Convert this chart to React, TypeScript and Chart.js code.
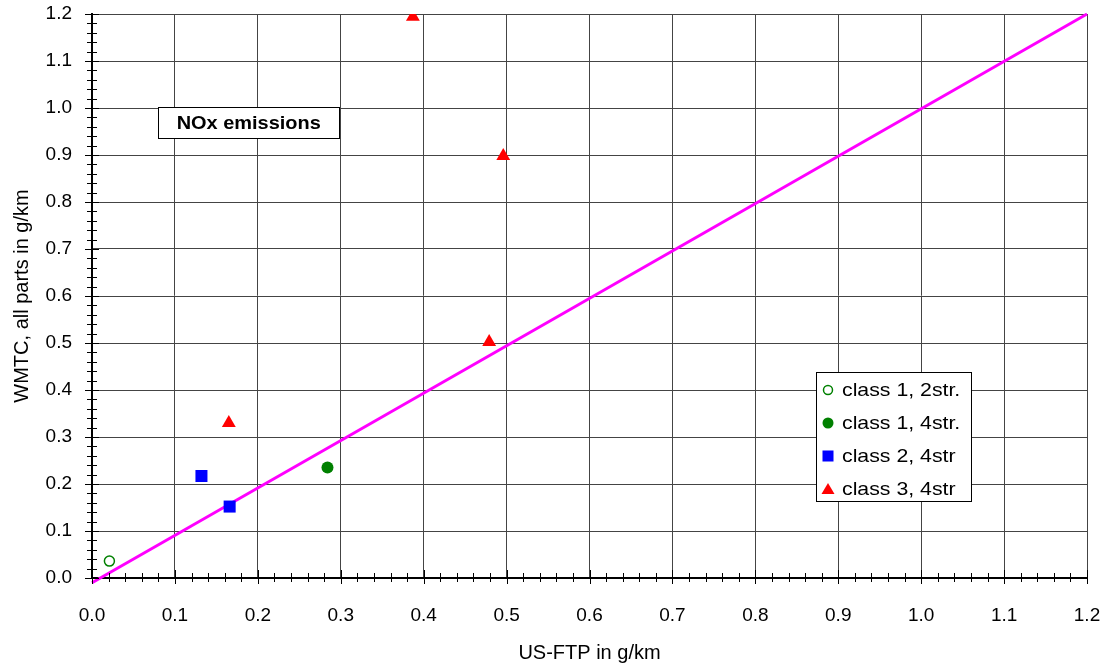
import React, { useEffect, useRef } from "react";
import { Chart, registerables } from "chart.js";

Chart.register(...registerables);

// ---- data ----
const seriesLabels = ["class 1, 2str.", "class 1, 4str.", "class 2, 4str", "class 3, 4str"];
const class1TwoStrokeX = [0.021];
const class1TwoStrokeY = [0.036];
const class1FourStrokeX = [0.284];
const class1FourStrokeY = [0.235];
const class2X = [0.132, 0.166];
const class2Y = [0.217, 0.152];
const class3X = [0.165, 0.387, 0.496, 0.479];
const class3Y = [0.33, 1.194, 0.898, 0.502];
const parityX = [0, 1.2];
const parityY = [-0.01, 1.2];
const axisMin = 0;
const axisMax = 1.2;
const majorStep = 0.1;
const minorStep = 0.02;
const boxTitle = "NOx emissions";
const xTitle = "US-FTP in g/km";
const yTitle = "WMTC, all parts in g/km";

const FONT = "Arial, 'Liberation Sans', sans-serif";
const GREEN = "#008000";
const BLUE = "#0000FF";
const RED = "#FF0000";
const MAGENTA = "#FF00FF";

const zip = (xs: number[], ys: number[]) => xs.map((x, i) => ({ x, y: ys[i] }));

function drawMarker(ctx: CanvasRenderingContext2D, kind: string, x: number, y: number, color: string) {
  ctx.save();
  ctx.beginPath();
  if (kind === "open") {
    ctx.arc(x, y, 4.5, 0, Math.PI * 2);
    ctx.fillStyle = "#fff";
    ctx.fill();
    ctx.strokeStyle = color;
    ctx.lineWidth = 1.5;
    ctx.stroke();
  } else if (kind === "circle") {
    ctx.arc(x, y, 5.5, 0, Math.PI * 2);
    ctx.fillStyle = color;
    ctx.fill();
  } else if (kind === "square") {
    ctx.fillStyle = color;
    ctx.fillRect(x - 5.5, y - 5.5, 11, 11);
  } else {
    ctx.moveTo(x, y - 6);
    ctx.lineTo(x + 6.5, y + 5);
    ctx.lineTo(x - 6.5, y + 5);
    ctx.closePath();
    ctx.fillStyle = color;
    ctx.fill();
  }
  ctx.restore();
}

const decorPlugin = {
  id: "decor",
  afterDraw(chart: any) {
    const ctx: CanvasRenderingContext2D = chart.ctx;
    const xs = chart.scales.x;
    const ys = chart.scales.y;
    const area = chart.chartArea;
    ctx.save();
    // tick marks crossing the axes
    ctx.strokeStyle = "#000";
    ctx.lineWidth = 1;
    const n = Math.round((axisMax - axisMin) / minorStep);
    for (let i = 0; i <= n; i++) {
      const v = axisMin + i * minorStep;
      const major = i % Math.round(majorStep / minorStep) === 0;
      const px = Math.round(xs.getPixelForValue(v)) + 0.5;
      ctx.beginPath();
      ctx.moveTo(px, area.bottom - (major ? 8 : 5));
      ctx.lineTo(px, area.bottom + (major ? 6 : 4));
      ctx.stroke();
      const py = Math.round(ys.getPixelForValue(v)) + 0.5;
      ctx.beginPath();
      ctx.moveTo(area.left - (major ? 7 : 5), py);
      ctx.lineTo(area.left + (major ? 7 : 5), py);
      ctx.stroke();
    }

    // title box
    const bx0 = xs.getPixelForValue(0.08);
    const bx1 = xs.getPixelForValue(0.298);
    const by0 = ys.getPixelForValue(1.002);
    const by1 = ys.getPixelForValue(0.936);
    ctx.fillStyle = "#fff";
    ctx.fillRect(bx0, by0, bx1 - bx0, by1 - by0);
    ctx.strokeStyle = "#000";
    ctx.lineWidth = 1;
    ctx.strokeRect(Math.round(bx0) + 0.5, Math.round(by0) + 0.5, Math.round(bx1 - bx0), Math.round(by1 - by0));
    ctx.fillStyle = "#000";
    ctx.font = "bold 19px " + FONT;
    ctx.textAlign = "center";
    ctx.textBaseline = "middle";
    ctx.save();
    ctx.translate((bx0 + bx1) / 2, (by0 + by1) / 2 + 1);
    ctx.scale(1.05, 1);
    ctx.fillText(boxTitle, 0, 0);
    ctx.restore();

    // legend
    const lx0 = area.right - 271;
    const lx1 = area.right - 116;
    const ly0 = area.bottom - 206;
    const ly1 = area.bottom - 77;
    ctx.fillStyle = "#fff";
    ctx.fillRect(lx0, ly0, lx1 - lx0, ly1 - ly0);
    ctx.strokeStyle = "#000";
    ctx.strokeRect(lx0 + 0.5, ly0 + 0.5, lx1 - lx0, ly1 - ly0);
    const kinds = ["open", "circle", "square", "triangle"];
    const colors = [GREEN, GREEN, BLUE, RED];
    ctx.font = "19px " + FONT;
    ctx.textAlign = "left";
    ctx.textBaseline = "middle";
    for (let i = 0; i < seriesLabels.length; i++) {
      const cy = ly0 + 18 + i * 33;
      drawMarker(ctx, kinds[i], lx0 + 12, cy, colors[i]);
      ctx.fillStyle = "#000";
      ctx.save();
      ctx.translate(lx0 + 26, cy + 1);
      ctx.scale(1.12, 1);
      ctx.fillText(seriesLabels[i], 0, 0);
      ctx.restore();
    }
    ctx.restore();
  },
};

const zeroPad = (s: any) => {
  s.paddingLeft = 0;
  s.paddingRight = 0;
  s.paddingTop = 0;
  s.paddingBottom = 0;
};

export default function App() {
  const ref = useRef<HTMLCanvasElement | null>(null);
  useEffect(() => {
    document.body.style.margin = "0";
    const canvas = ref.current!;
    const chart = new Chart(canvas, {
      type: "scatter",
      data: {
        datasets: [
          {
            label: seriesLabels[0],
            data: zip(class1TwoStrokeX, class1TwoStrokeY),
            pointStyle: "circle",
            pointRadius: 5,
            backgroundColor: "#fff",
            borderColor: GREEN,
            borderWidth: 1.5,
            order: 1,
          },
          {
            label: seriesLabels[1],
            data: zip(class1FourStrokeX, class1FourStrokeY),
            pointStyle: "circle",
            pointRadius: 6,
            backgroundColor: GREEN,
            borderColor: GREEN,
            borderWidth: 0,
            order: 1,
          },
          {
            label: seriesLabels[2],
            data: zip(class2X, class2Y),
            pointStyle: "rect",
            pointRadius: 8.5,
            backgroundColor: BLUE,
            borderColor: BLUE,
            borderWidth: 0,
            order: 1,
          },
          {
            label: seriesLabels[3],
            data: zip(class3X, class3Y),
            pointStyle: "triangle",
            pointRadius: 8,
            backgroundColor: RED,
            borderColor: RED,
            borderWidth: 0,
            order: 1,
          },
          {
            label: "1:1",
            data: zip(parityX, parityY),
            showLine: true,
            pointRadius: 0,
            borderColor: MAGENTA,
            borderWidth: 3,
            clip: false as any,
            order: 10,
          } as any,
        ],
      },
      options: {
        responsive: false,
        animation: false,
        devicePixelRatio: 1,
        layout: { padding: { top: 14, right: 24, left: 0, bottom: 0 } },
        plugins: {
          legend: { display: false },
          tooltip: { enabled: false },
        },
        scales: {
          x: {
            type: "linear",
            min: axisMin,
            max: axisMax,
            afterFit: (s: any) => {
              s.height = 93;
              zeroPad(s);
            },
            ticks: {
              stepSize: majorStep,
              color: "#000",
              font: { family: FONT, size: 19 },
              padding: 26,
              callback: (v: any) => Number(v).toFixed(1),
            },
            grid: { color: "#444", lineWidth: 1, drawTicks: false },
            border: { color: "#000", width: 2 },
            title: {
              display: true,
              text: xTitle,
              color: "#000",
              font: { family: FONT, size: 20 },
              padding: { top: 0, bottom: 6 },
            },
          },
          y: {
            type: "linear",
            min: axisMin,
            max: axisMax,
            afterFit: (s: any) => {
              s.width = 92;
              zeroPad(s);
            },
            ticks: {
              stepSize: majorStep,
              color: "#000",
              font: { family: FONT, size: 19 },
              padding: 20,
              callback: (v: any) => Number(v).toFixed(1),
            },
            grid: { color: "#444", lineWidth: 1, drawTicks: false },
            border: { color: "#000", width: 2 },
            title: {
              display: true,
              text: yTitle,
              color: "#000",
              font: { family: FONT, size: 20 },
              padding: { top: 10, bottom: 0 },
            },
          },
        },
      },
      plugins: [decorPlugin],
    });
    return () => chart.destroy();
  }, []);
  return <canvas ref={ref} width={1111} height={671} style={{ display: "block" }} />;
}
